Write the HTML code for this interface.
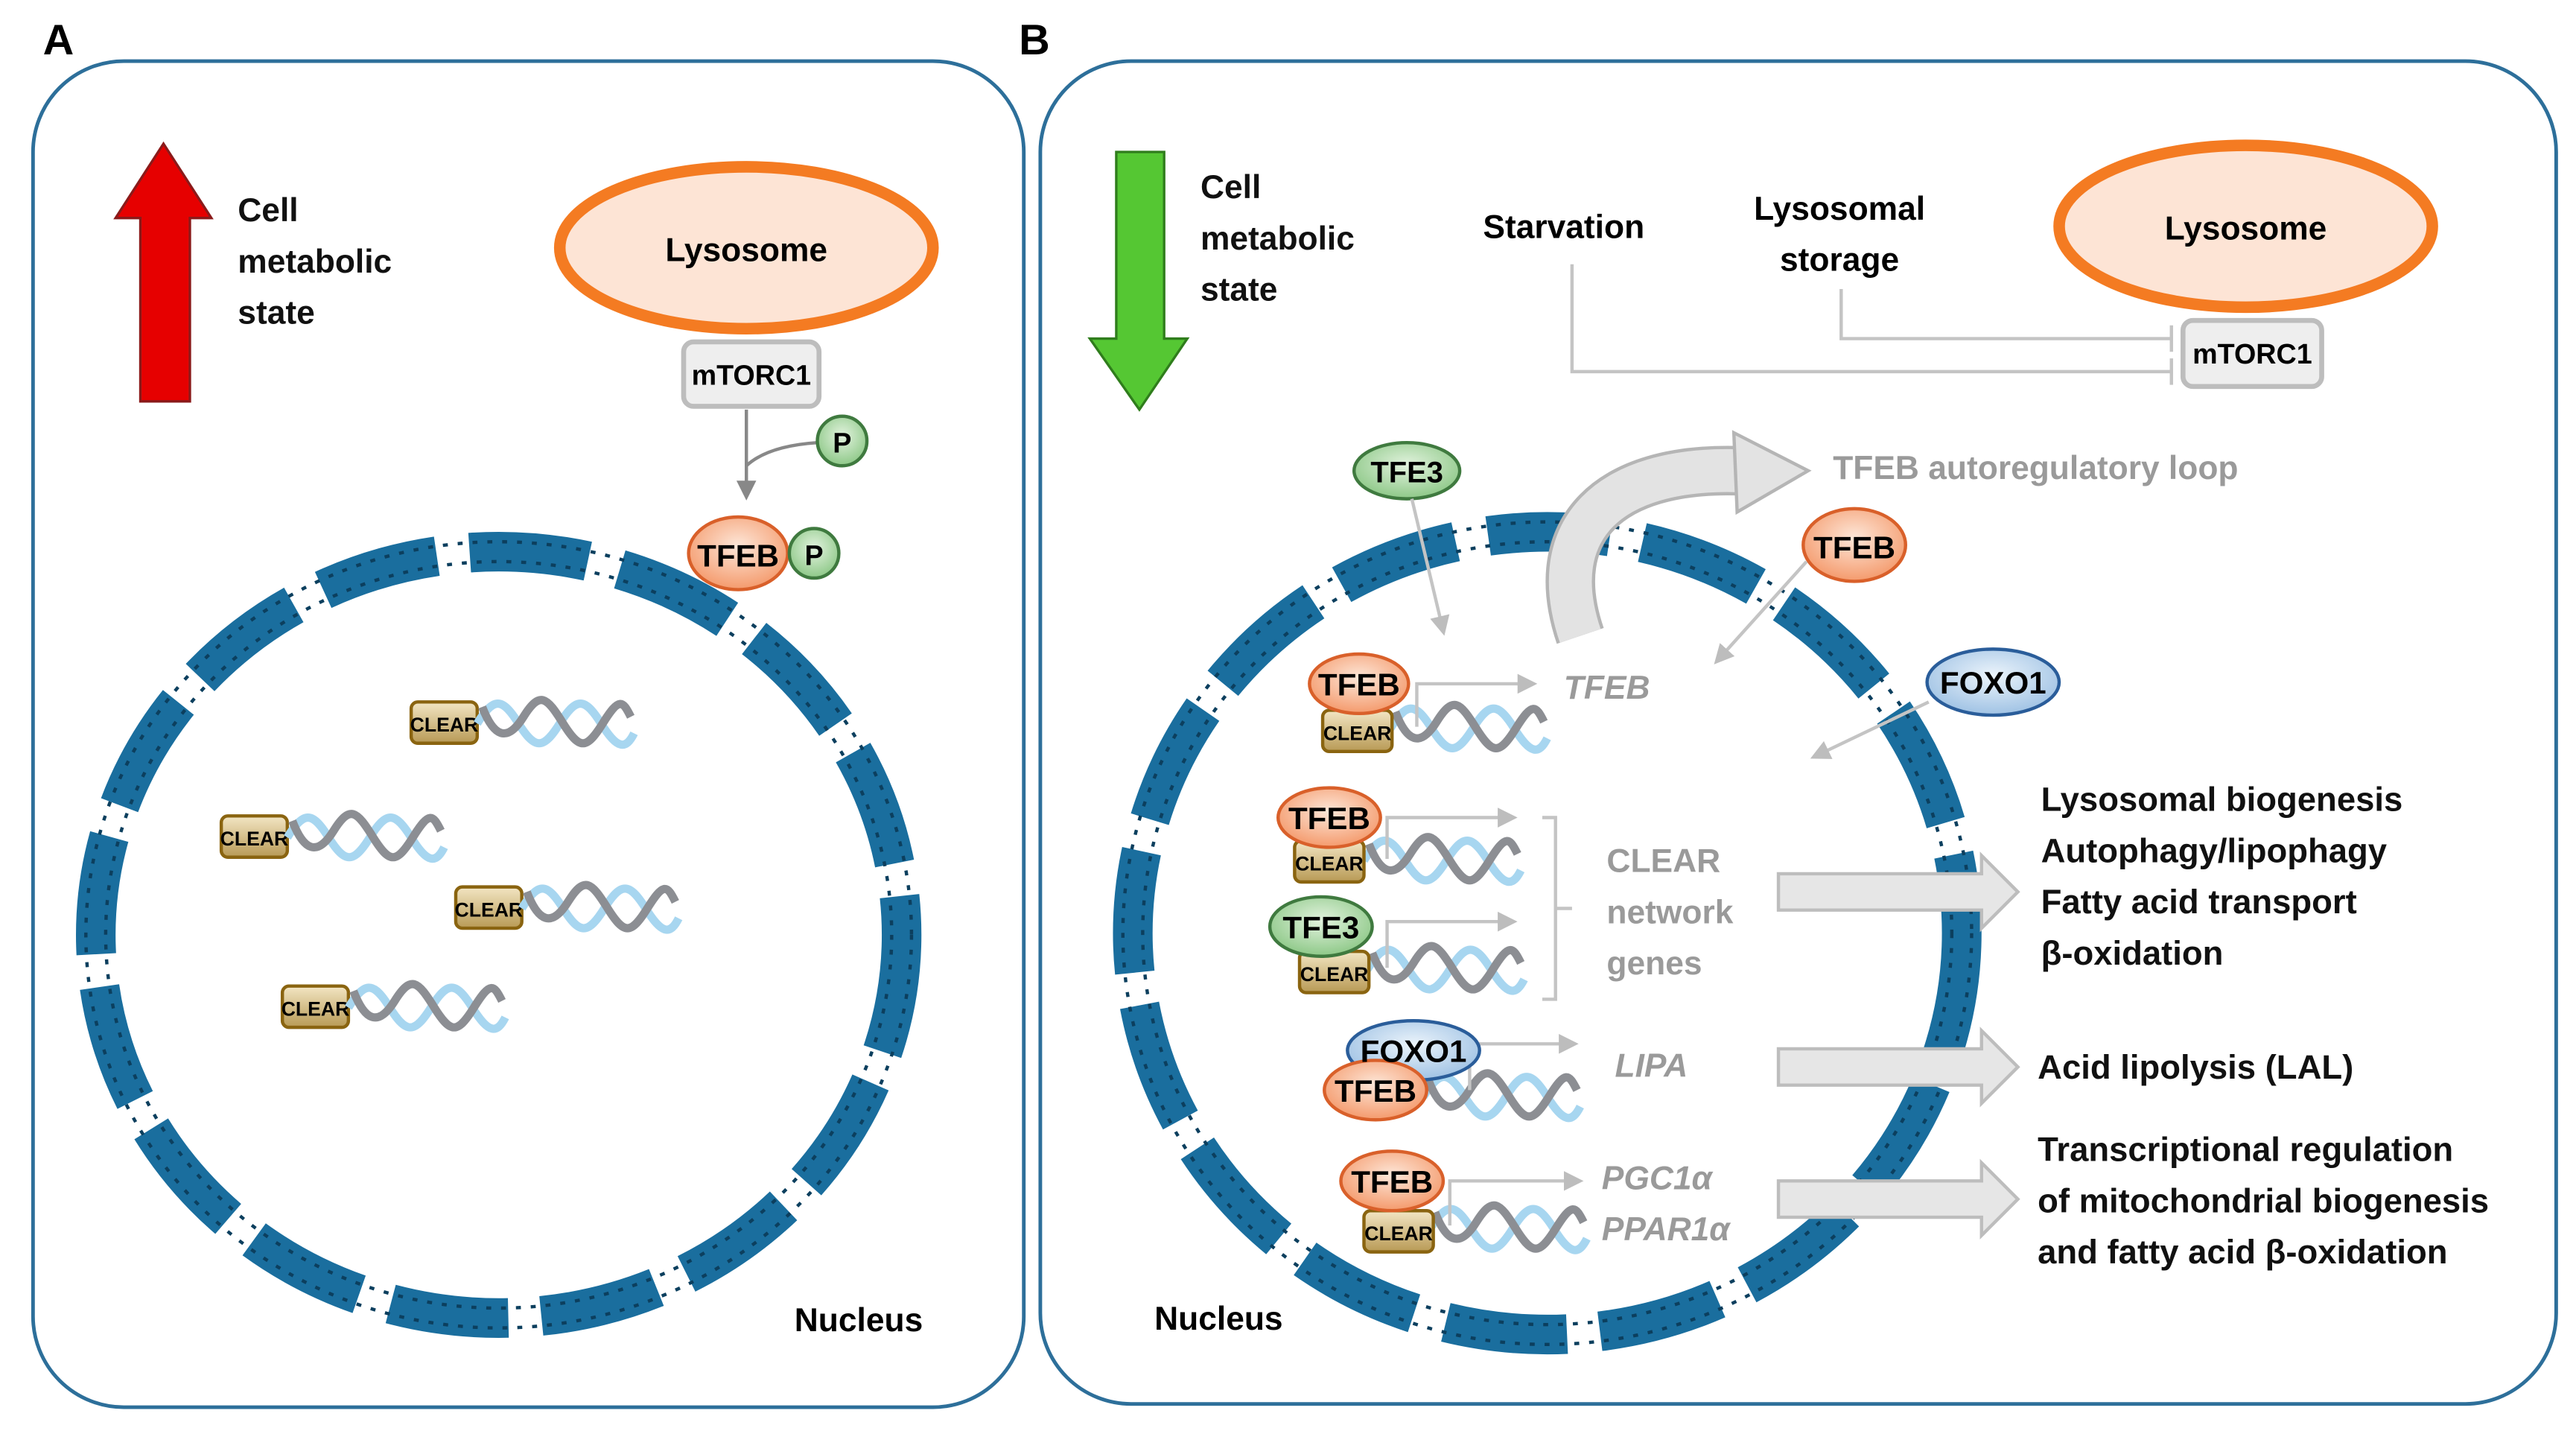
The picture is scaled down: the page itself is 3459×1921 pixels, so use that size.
<!DOCTYPE html>
<html><head><meta charset="utf-8">
<style>html,body{margin:0;padding:0;background:#fff}svg{display:block}
text{font-family:"Liberation Sans",sans-serif}</style></head>
<body>
<svg width="3459" height="1921" viewBox="0 0 1560 866.4" preserveAspectRatio="none" xmlns="http://www.w3.org/2000/svg">
<defs>
<linearGradient id="gold" x1="0" y1="0" x2="0" y2="1"><stop offset="0" stop-color="#f3e6c4"/><stop offset="1" stop-color="#b89a55"/></linearGradient>
<radialGradient id="org" cx="0.5" cy="0.4" r="0.6"><stop offset="0" stop-color="#fde7d9"/><stop offset="1" stop-color="#f49a6c"/></radialGradient>
<radialGradient id="grn" cx="0.5" cy="0.4" r="0.6"><stop offset="0" stop-color="#e3f3df"/><stop offset="1" stop-color="#8dc887"/></radialGradient>
<radialGradient id="blu" cx="0.5" cy="0.4" r="0.6"><stop offset="0" stop-color="#ecf4fb"/><stop offset="1" stop-color="#9fc2e4"/></radialGradient>
<g id="dna">
<path d="M0,14 C10,-2 15,-2 25,14 S40,30 50,14 S65,-2 75,14 S90,30 95,20" fill="none" stroke="#a7d6f0" stroke-width="5"/>
<path d="M3,4 C10,22 18,26 28,10 S42,-2 52,14 S66,30 76,14 S88,0 93,10" fill="none" stroke="#8c8e93" stroke-width="5"/>
</g>
<marker id="ah2" markerWidth="12" markerHeight="12" refX="9" refY="6" orient="auto" markerUnits="userSpaceOnUse"><path d="M0,0 L12,6 L0,12 Z" fill="#bdbdbd"/></marker>
<marker id="ahd" markerWidth="12" markerHeight="12" refX="9" refY="6" orient="auto" markerUnits="userSpaceOnUse"><path d="M0,0 L12,6 L0,12 Z" fill="#888"/></marker>
</defs>

<rect x="20" y="37" width="600" height="815" rx="55" fill="none" stroke="#2d6f9a" stroke-width="2.2"/>
<rect x="630" y="37" width="918" height="813" rx="55" fill="none" stroke="#2d6f9a" stroke-width="2.2"/>
<text x="26" y="33" font-size="26" font-weight="bold">A</text>
<text x="617" y="33" font-size="26" font-weight="bold">B</text>

<!-- Panel A -->
<polygon points="85,243 115,243 115,132 128,132 99,87 70,132 85,132" fill="#e60000" stroke="#8a1a1a" stroke-width="1.5"/>
<text font-size="20" font-weight="bold" fill="#111"><tspan x="144" y="134">Cell</tspan><tspan x="144" y="165">metabolic</tspan><tspan x="144" y="196">state</tspan></text>
<ellipse cx="452" cy="150" rx="113" ry="49" fill="#fde4d5" stroke="#f47b22" stroke-width="7"/>
<text x="452" y="158" font-size="20" font-weight="bold" text-anchor="middle">Lysosome</text>
<rect x="414" y="207" width="82" height="39" rx="6" fill="#eeeeee" stroke="#bdbdbd" stroke-width="3"/>
<text x="455" y="233" font-size="17" font-weight="bold" text-anchor="middle">mTORC1</text>
<path d="M452,248 L452,300" stroke="#888" stroke-width="2" marker-end="url(#ahd)"/>
<path d="M452,282 Q465,270 495,268" stroke="#888" stroke-width="2" fill="none"/>
<circle cx="510" cy="267" r="15" fill="url(#grn)" stroke="#3f7a3f" stroke-width="2"/>
<text x="510" y="274" font-size="17" font-weight="bold" text-anchor="middle">P</text>
<ellipse cx="447" cy="335" rx="30" ry="22" fill="url(#org)" stroke="#d9602a" stroke-width="2"/>
<text x="447" y="343" font-size="19" font-weight="bold" text-anchor="middle">TFEB</text>
<circle cx="493" cy="335" r="15" fill="url(#grn)" stroke="#3f7a3f" stroke-width="2"/>
<text x="493" y="342" font-size="17" font-weight="bold" text-anchor="middle">P</text>

<g>
<ellipse cx="302" cy="566" rx="244" ry="232" fill="none" stroke="#1a6e9e" stroke-width="24" stroke-dasharray="72 20"/>
<ellipse cx="302" cy="566" rx="238" ry="226" fill="none" stroke="#0c3f5e" stroke-width="2" stroke-dasharray="3 6"/>
<ellipse cx="302" cy="566" rx="250" ry="238" fill="none" stroke="#0c3f5e" stroke-width="2" stroke-dasharray="3 6"/>
</g>
<g font-size="12" font-weight="bold" text-anchor="middle">
<rect x="249" y="425" width="40" height="25" rx="4" fill="url(#gold)" stroke="#8a6410" stroke-width="2"/><text x="269" y="443">CLEAR</text><use href="#dna" x="289" y="424"/>
<rect x="134" y="494" width="40" height="25" rx="4" fill="url(#gold)" stroke="#8a6410" stroke-width="2"/><text x="154" y="512">CLEAR</text><use href="#dna" x="174" y="493"/>
<rect x="276" y="537" width="40" height="25" rx="4" fill="url(#gold)" stroke="#8a6410" stroke-width="2"/><text x="296" y="555">CLEAR</text><use href="#dna" x="316" y="536"/>
<rect x="171" y="597" width="40" height="25" rx="4" fill="url(#gold)" stroke="#8a6410" stroke-width="2"/><text x="191" y="615">CLEAR</text><use href="#dna" x="211" y="596"/>
</g>
<text x="520" y="806" font-size="20" font-weight="bold" text-anchor="middle">Nucleus</text>

<!-- Panel B -->
<polygon points="676,92 705,92 705,205 719,205 690,248 660,205 676,205" fill="#55c733" stroke="#2f7d1c" stroke-width="1.5"/>
<text font-size="20" font-weight="bold" fill="#111"><tspan x="727" y="120">Cell</tspan><tspan x="727" y="151">metabolic</tspan><tspan x="727" y="182">state</tspan></text>
<text x="947" y="144" font-size="20" font-weight="bold" text-anchor="middle">Starvation</text>
<text font-size="20" font-weight="bold" text-anchor="middle"><tspan x="1114" y="133">Lysosomal</tspan><tspan x="1114" y="164">storage</tspan></text>
<ellipse cx="1360" cy="137" rx="113" ry="49" fill="#fde4d5" stroke="#f47b22" stroke-width="7"/>
<text x="1360" y="145" font-size="20" font-weight="bold" text-anchor="middle">Lysosome</text>
<rect x="1322" y="194" width="84" height="40" rx="6" fill="#eeeeee" stroke="#bdbdbd" stroke-width="3"/>
<text x="1364" y="220" font-size="17" font-weight="bold" text-anchor="middle">mTORC1</text>
<path d="M952,160 L952,225 L1315,225 M1315,217 L1315,233" stroke="#c4c4c4" stroke-width="2" fill="none"/>
<path d="M1115,175 L1115,205 L1315,205 M1315,197 L1315,213" stroke="#c4c4c4" stroke-width="2" fill="none"/>

<g>
<ellipse cx="937" cy="565" rx="251" ry="243" fill="none" stroke="#1a6e9e" stroke-width="24" stroke-dasharray="74 20"/>
<ellipse cx="937" cy="565" rx="245" ry="237" fill="none" stroke="#0c3f5e" stroke-width="2" stroke-dasharray="3 6"/>
<ellipse cx="937" cy="565" rx="257" ry="249" fill="none" stroke="#0c3f5e" stroke-width="2" stroke-dasharray="3 6"/>
</g>

<path d="M957,385 C935,320 975,283 1052,285" fill="none" stroke="#b5b5b5" stroke-width="30"/>
<path d="M957,385 C935,320 975,283 1052,285" fill="none" stroke="#e3e3e3" stroke-width="26"/>
<polygon points="1050,262 1095,285 1052,310" fill="#e3e3e3" stroke="#b5b5b5" stroke-width="2"/>
<text x="1110" y="290" font-size="20" font-weight="bold" fill="#9a9a9a">TFEB autoregulatory loop</text>

<ellipse cx="852" cy="285" rx="32" ry="17" fill="url(#grn)" stroke="#3f7a3f" stroke-width="2"/>
<text x="852" y="292" font-size="18" font-weight="bold" text-anchor="middle">TFE3</text>
<ellipse cx="1123" cy="330" rx="31" ry="22" fill="url(#org)" stroke="#d9602a" stroke-width="2"/>
<text x="1123" y="338" font-size="19" font-weight="bold" text-anchor="middle">TFEB</text>
<ellipse cx="1207" cy="413" rx="40" ry="20" fill="url(#blu)" stroke="#2a5d9a" stroke-width="2"/>
<text x="1207" y="420" font-size="19" font-weight="bold" text-anchor="middle">FOXO1</text>
<path d="M855,302 L874,382" stroke="#c4c4c4" stroke-width="2" marker-end="url(#ah2)"/>
<path d="M1094,340 L1040,400" stroke="#c4c4c4" stroke-width="2" marker-end="url(#ah2)"/>
<path d="M1168,425 L1099,458" stroke="#c4c4c4" stroke-width="2" marker-end="url(#ah2)"/>

<g font-size="12" font-weight="bold" text-anchor="middle">
<use href="#dna" x="842" y="427"/>
<path d="M858,440 L858,414 L928,414" stroke="#c4c4c4" stroke-width="2" fill="none" marker-end="url(#ah2)"/>
<rect x="801" y="430" width="42" height="25" rx="4" fill="url(#gold)" stroke="#8a6410" stroke-width="2"/><text x="822" y="448">CLEAR</text>
<ellipse cx="823" cy="414" rx="30" ry="18" fill="url(#org)" stroke="#d9602a" stroke-width="2"/>
<use href="#dna" x="826" y="507"/>
<path d="M840,520 L840,495 L916,495" stroke="#c4c4c4" stroke-width="2" fill="none" marker-end="url(#ah2)"/>
<rect x="784" y="509" width="42" height="25" rx="4" fill="url(#gold)" stroke="#8a6410" stroke-width="2"/><text x="805" y="527">CLEAR</text>
<ellipse cx="805" cy="495" rx="31" ry="18" fill="url(#org)" stroke="#d9602a" stroke-width="2"/>
<use href="#dna" x="828" y="573"/>
<path d="M840,586 L840,558 L916,558" stroke="#c4c4c4" stroke-width="2" fill="none" marker-end="url(#ah2)"/>
<rect x="787" y="576" width="42" height="25" rx="4" fill="url(#gold)" stroke="#8a6410" stroke-width="2"/><text x="808" y="594">CLEAR</text>
<ellipse cx="800" cy="561" rx="31" ry="18" fill="url(#grn)" stroke="#3f7a3f" stroke-width="2"/>
<use href="#dna" x="862" y="650"/>
<path d="M890,660 L890,632 L953,632" stroke="#c4c4c4" stroke-width="2" fill="none" marker-end="url(#ah2)"/>
<use href="#dna" x="866" y="730"/>
<path d="M878,742 L878,715 L956,715" stroke="#c4c4c4" stroke-width="2" fill="none" marker-end="url(#ah2)"/>
<rect x="826" y="733" width="42" height="25" rx="4" fill="url(#gold)" stroke="#8a6410" stroke-width="2"/><text x="847" y="751">CLEAR</text>
<ellipse cx="843" cy="715" rx="31" ry="18" fill="url(#org)" stroke="#d9602a" stroke-width="2"/>
</g>
<ellipse cx="856" cy="636" rx="40" ry="18" fill="url(#blu)" stroke="#2a5d9a" stroke-width="2"/>
<ellipse cx="833" cy="660" rx="31" ry="18" fill="url(#org)" stroke="#d9602a" stroke-width="2"/>
<g font-size="19" font-weight="bold" text-anchor="middle">
<text x="823" y="421">TFEB</text><text x="805" y="502">TFEB</text><text x="800" y="568">TFE3</text>
<text x="856" y="643">FOXO1</text><text x="833" y="667">TFEB</text><text x="843" y="722">TFEB</text>
</g>
<g font-size="20" font-style="italic" fill="#9a9a9a" font-weight="bold">
<text x="947" y="423">TFEB</text>
<text x="978" y="652">LIPA</text>
<text x="970" y="720">PGC1α</text>
<text x="970" y="751">PPAR1α</text>
</g>
<path d="M934,495 L942,495 L942,605 L934,605 M942,550 L952,550" stroke="#c4c4c4" stroke-width="2" fill="none"/>
<text font-size="20" font-weight="bold" fill="#9a9a9a"><tspan x="973" y="528">CLEAR</tspan><tspan x="973" y="559">network</tspan><tspan x="973" y="590">genes</tspan></text>

<g fill="#e6e6e6" stroke="#bdbdbd" stroke-width="2">
<polygon points="1077,529 1200,529 1200,518 1222,540 1200,562 1200,551 1077,551"/>
<polygon points="1077,635 1200,635 1200,624 1222,646 1200,668 1200,657 1077,657"/>
<polygon points="1077,715 1200,715 1200,704 1222,726 1200,748 1200,737 1077,737"/>
</g>
<text font-size="20.5" font-weight="bold" fill="#111">
<tspan x="1236" y="491">Lysosomal biogenesis</tspan><tspan x="1236" y="522">Autophagy/lipophagy</tspan><tspan x="1236" y="553">Fatty acid transport</tspan><tspan x="1236" y="584">β-oxidation</tspan>
<tspan x="1234" y="653">Acid lipolysis  (LAL)</tspan>
<tspan x="1234" y="703">Transcriptional  regulation</tspan><tspan x="1234" y="734">of mitochondrial biogenesis</tspan><tspan x="1234" y="765">and fatty acid β-oxidation</tspan>
</text>
<text x="738" y="805" font-size="20" font-weight="bold" text-anchor="middle">Nucleus</text>
</svg>
</body></html>
